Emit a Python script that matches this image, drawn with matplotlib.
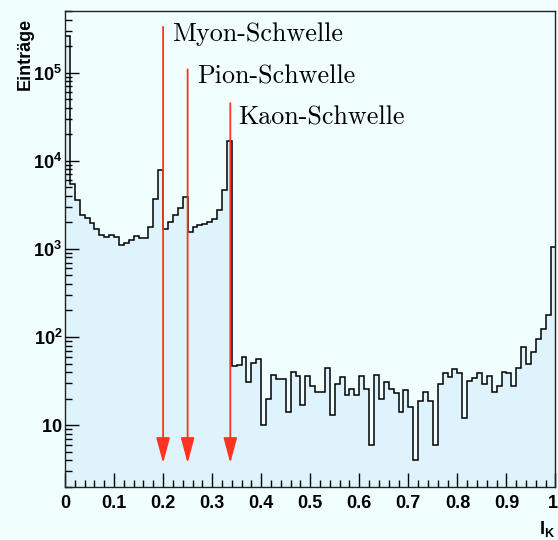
import numpy as np
import matplotlib
matplotlib.use("Agg")
import matplotlib.pyplot as plt
from matplotlib.transforms import ScaledTranslation
from matplotlib.ticker import FuncFormatter, MultipleLocator, LogLocator, NullFormatter

plt.rcParams["font.family"] = ["Liberation Sans", "DejaVu Sans"]
plt.rcParams["mathtext.fontset"] = "custom"
plt.rcParams["mathtext.rm"] = "Liberation Sans"
plt.rcParams["mathtext.bf"] = "Liberation Sans:bold"

# 100 bins from 0 to 1
bin_edges = np.linspace(0, 1, 101)
counts = [261000, 5430, 3560, 2400, 2250, 1950, 1700, 1425, 1370, 1440,
          1360, 1110, 1160, 1245, 1390, 1345, 1345, 1785, 3670, 7770,
          1690, 2005, 2450, 2910, 3850, 1555, 1785, 1860, 1900, 2020,
          2200, 2760, 4600, 16950, 47, 48, 60, 31, 51, 56,
          10, 20, 37, 33, 33, 14, 40, 36, 17, 36,
          28, 24, 24, 45, 13, 29, 35, 22, 26, 22,
          36, 26, 6, 37, 20, 31, 26, 23, 14, 25,
          16, 4, 19, 24, 19, 6, 29, 39, 35, 43,
          39, 12, 32, 34, 39, 29, 36, 24, 28, 40,
          39, 28, 45, 76, 50, 67, 96, 124, 178, 1054]

thresholds = [0.2, 0.25, 0.337]
threshold_names = ["Myon-Schwelle", "Pion-Schwelle", "Kaon-Schwelle"]
arrow_tops = [3.3e5, 1.09e5, 4.5e4]
label_pos = [(0.218, 2.75e5), (0.269, 9.0e4), (0.353, 3.05e4)]

bg = "#f0fefe"
fill = "#def3fb"

fig = plt.figure(figsize=(5.58, 5.40), dpi=100, facecolor=bg)
ax = fig.add_axes([0.1165, 0.0987, 0.879, 0.8809], facecolor=bg)

ax.stairs(counts, bin_edges, baseline=1, fill=True, color=fill)
ax.stairs(counts, bin_edges, baseline=None, color="black", lw=1.1)

ax.set_yscale("log")
ax.set_xlim(0, 1)
ax.set_ylim(2, 5e5)

for x, top, name, (tx, ty) in zip(thresholds, arrow_tops, threshold_names, label_pos):
    ax.annotate("", xy=(x, 3.7), xytext=(x, top),
                arrowprops=dict(arrowstyle="-|>,head_length=1.56,head_width=0.42",
                                mutation_scale=10, color="#ff3322", lw=1.3,
                                shrinkA=0, shrinkB=0))
    ax.text(tx, ty, name, family=["cmr10", "DejaVu Serif"], fontsize=18.8,
            va="center", ha="left")

# ticks; the last x label "1" is drawn by hand so it stays inside the figure
ax.xaxis.set_major_locator(MultipleLocator(0.1))
ax.xaxis.set_minor_locator(MultipleLocator(0.02))
ax.xaxis.set_major_formatter(FuncFormatter(lambda v, p: "" if v > 0.99 else "%g" % round(v, 2)))
ax.yaxis.set_major_locator(LogLocator(base=10, numticks=20))
ax.yaxis.set_minor_locator(LogLocator(base=10, subs=np.arange(2, 10), numticks=20))
ax.yaxis.set_minor_formatter(NullFormatter())


def ylab(v, p):
    e = int(round(np.log10(v)))
    if e == 1:
        return r"$\mathbf{10}$"
    return r"$\mathbf{10^{%d}}$" % e


ax.yaxis.set_major_formatter(FuncFormatter(ylab))
ax.tick_params(which="both", direction="in", top=False, right=False, width=1)
ax.tick_params(axis="x", which="major", length=10, pad=6, labelsize=13, labelfontfamily="Liberation Sans")
ax.tick_params(axis="x", which="minor", length=5)
ax.tick_params(axis="y", which="major", length=10, pad=2, labelsize=13)
ax.tick_params(axis="y", which="minor", length=5)
for lab in ax.get_xticklabels():
    lab.set_fontweight("bold")

ax.text(1, 0, "1", fontsize=13, fontweight="bold", ha="center", va="top",
        transform=ax.transAxes + ScaledTranslation(-2.5 / 100, -6 / 72, fig.dpi_scale_trans))

for s in ax.spines.values():
    s.set_linewidth(1)
    s.set_color("#222222")

ax.set_xlabel(r"$\mathbf{I_K}$", loc="right", fontsize=13, labelpad=5)
fig.text(25 / 558, 1 - 18 / 540, "Einträge", rotation=90, va="top", ha="center",
         fontsize=13, fontweight="bold")

fig.savefig("out.png", dpi=100, facecolor=bg)
